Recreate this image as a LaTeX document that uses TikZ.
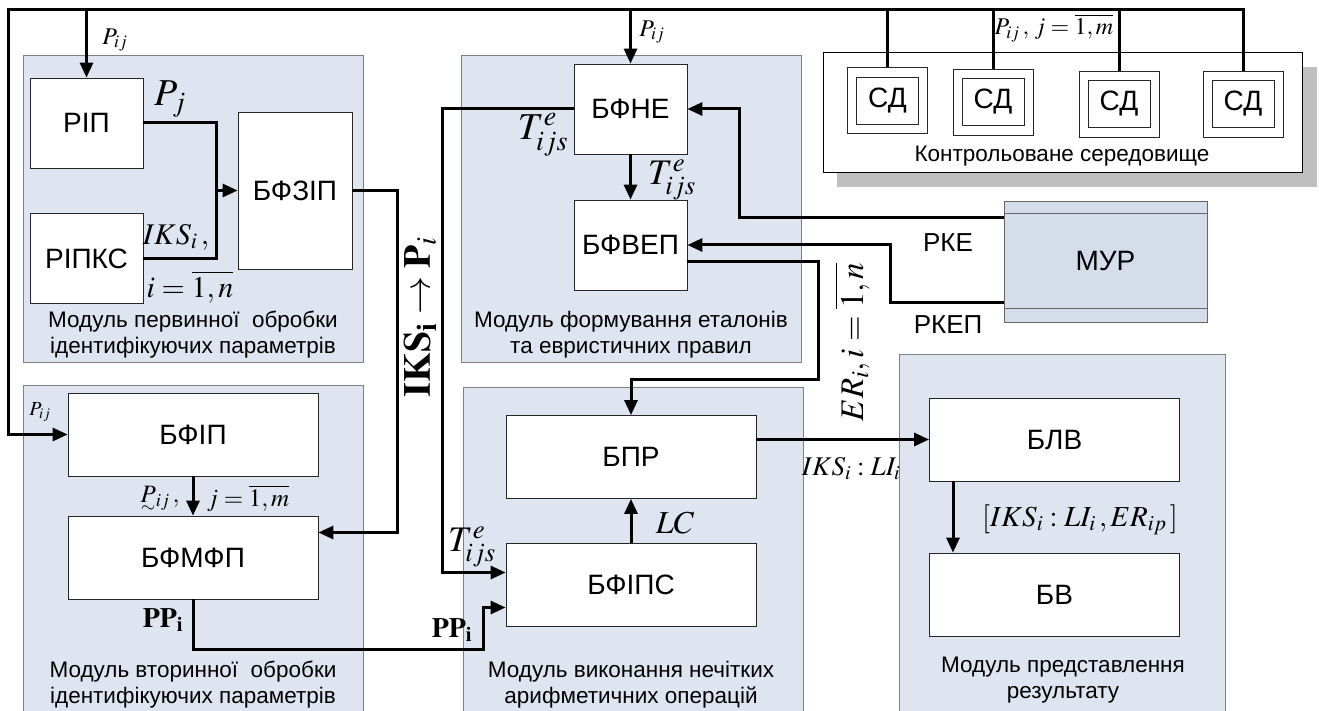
\documentclass[tikz,border=0pt]{standalone}
\usepackage{amsmath}
\usepackage{mathptmx}
\usepackage[no-math]{fontspec}
\setmainfont{Liberation Sans}
\usetikzlibrary{arrows.meta}
\definecolor{modfill}{RGB}{223,229,240}
\definecolor{murfill}{RGB}{213,221,234}
\definecolor{tin}{RGB}{191,191,191}
\newcommand{\fsz}[1]{\fontsize{#1}{#1}\selectfont}
\newcommand{\fuzP}{{\smash[b]{\mbox{\ooalign{$P$\cr\hidewidth\raisebox{-0.42em}{$\scriptstyle\sim$}\hidewidth\cr}}}}}
\begin{document}
\begin{tikzpicture}[x=1pt, y=-1pt, >={Triangle[length=15pt,width=13pt]},
    modul/.style={draw=black!50, fill=modfill, line width=0.8pt},
    blok/.style={draw=black!85, fill=white, line width=0.8pt, inner sep=0pt, font=\fsz{28}},
    malyj/.style={blok, minimum width=113pt, minimum height=90pt},
    shyrokyj/.style={blok, minimum width=250pt, minimum height=83pt},
    datch/.style={draw=black!85, fill=white, line width=0.8pt, minimum width=80pt, minimum height=66pt, inner sep=0pt},
    datchin/.style={draw=black!85, fill=white, line width=0.8pt, minimum width=62pt, minimum height=47pt, inner sep=0pt, font=\fsz{28}},
    link/.style={line width=3pt},
    modtext/.style={align=center, inner sep=0pt, font=\fontsize{22.5}{26}\selectfont},
    lab/.style={inner sep=0pt}]
    \useasboundingbox (0,0) rectangle (1319,711);
    \clip (0,0) rectangle (1319,711);

    % модулі
    \draw[modul] (23,55) rectangle (363,362);
    \draw[modul] (23,385) rectangle (363,720);
    \draw[modul] (461,55) rectangle (801,362);
    \draw[modul] (463,387) rectangle (803,720);
    \draw[modul] (899,354) rectangle (1225,720);

    % контрольоване середовище
    \fill[tin] (837,67) rectangle (1317,187);
    \draw[line width=0.8pt, fill=white] (823,52) rectangle (1302,172);
    \foreach \x/\y [count=\n] in {887.5/100.5, 993/102, 1119/104, 1243/104} {
        \node[datch] (sd\n) at (\x,\y) {};
        \node[datchin] (sdt\n) at (\x,\y) {СД};
    }
    \node[modtext] (tenv) at (1062,156) {Контрольоване середовище};

    % блоки
    \node[malyj] (rip) at (86.5,123) {РІП};
    \node[malyj] (ripks) at (86.5,258.5) {РІПКС};
    \node[blok, minimum width=114pt, minimum height=157pt] (bfzip) at (295,190.5) {БФЗІП};
    \node[shyrokyj] (bfip) at (193,434.5) {БФІП};
    \node[shyrokyj] (bfmfp) at (193,557.5) {БФМФП};
    \node[malyj] (bfne) at (630.5,109) {БФНЕ};
    \node[malyj] (bfvep) at (630.5,245) {БФВЕП};
    \node[shyrokyj] (bpr) at (631,457) {БПР};
    \node[shyrokyj] (bfips) at (631,584.5) {БФІПС};
    \node[shyrokyj] (blv) at (1054.5,439.5) {БЛВ};
    \node[shyrokyj] (bv) at (1054.5,594.5) {БВ};
    \node[blok, fill=murfill, draw=black!60, minimum width=203pt, minimum height=121pt] (mur) at (1105.5,261.5) {МУР};
    \draw[black!60, line width=0.8pt] ([yshift=-13pt]mur.north west) -- ([yshift=-13pt]mur.north east);
    \draw[black!60, line width=0.8pt] ([yshift=14pt]mur.south west) -- ([yshift=14pt]mur.south east);

    % шина P_ij
    \coordinate (busL) at (8,10);
    \draw[link, ->] (sd4.north) -- (sd4.north |- busL) -- (busL) |- (bfip.west);
    \foreach \n in {1,2,3}
        \draw[link] (sd\n.north |- busL) -- (sd\n.north);
    \draw[link, ->] (rip.north |- busL) -- (rip.north);
    \draw[link, ->] (bfne.north |- busL) -- (bfne.north);

    % зв'язки
    \coordinate (mrg) at (216,190.5);
    \draw[link] (rip.east) -| (mrg) |- (ripks.east);
    \draw[link, ->] (mrg) -- (bfzip.west);
    \draw[link, ->] (bfzip.east) -- ++(45,0) |- ([yshift=25pt]bfmfp.east);
    \draw[link, ->] (bfip.south) -- (bfmfp.north);
    \draw[link, ->] (bfmfp.south) -- ++(0,50) -- ++(290,0) |- ([yshift=-23pt]bfips.west);
    \draw[link, ->] (bfne.west) -- ++(-131,0) |- ([yshift=12pt]bfips.west);
    \draw[link, ->] (bfne.south) -- (bfvep.north);
    \draw[link, ->] ([yshift=43.5pt]mur.west) -- ++(-264,0) |- (bfne.east);
    \draw[link, ->] ([yshift=-40.5pt]mur.west) -- ++(-113,0) |- (bfvep.east);
    \draw[link, ->] ([yshift=-17pt]bfvep.east) -- ++(131,0) -- ++(0,117) -| (bpr.north);
    \draw[link, ->] (bfips.north) -- (bpr.south);
    \draw[link, ->] (blv.west -| bpr.east) -- (blv.west);
    \draw[link, ->] ([xshift=-101.5pt]blv.south) -- ([xshift=-101.5pt]bv.north);

    % підписи
    \node[lab, font=\fsz{24}] (lpij1) at (115,40) {$P_{ij}$};
    \node[lab, font=\fsz{38}] (lpj) at (170,99) {$P_j$};
    \node[lab, font=\fsz{30}] (liks) at (176,237) {$IKS_i\,,$};
    \node[lab, font=\fsz{30}] (lin) at (190,287) {$i=\overline{1,n}$};
    \node[lab, font=\fsz{38}, rotate=90] (likp) at (420,317) {$\mathbf{IKS_i}\rightarrow\mathbf{P}_i$};
    \node[lab, font=\fsz{24}] (lpij2) at (652,32) {$P_{ij}$};
    \node[lab, font=\fsz{38}] (lt1) at (543,135) {$T^e_{ijs}$};
    \node[lab, font=\fsz{36}] (lt2) at (672,180) {$T^e_{ijs}$};
    \node[lab, font=\fsz{26}] (lrke) at (948,243) {РКЕ};
    \node[lab, font=\fsz{26}] (lrkep) at (948,325) {РКЕП};
    \node[lab, font=\fsz{33}, rotate=90] (ler) at (852,342) {$ER_i, i=\overline{1,n}$};
    \node[lab, font=\fsz{24}] (lpijm) at (1054,28) {$P_{ij}\,,\,j=\overline{1,m}$};
    \node[lab, font=\fsz{20}] (lpij3) at (40,412) {$P_{ij}$};
    \node[lab, font=\fsz{25}] (lpt) at (160,498) {$\fuzP_{ij}\,,$};
    \node[lab, font=\fsz{25}] (ljm) at (248,498) {$j=\overline{1,m}$};
    \node[lab, font=\fsz{28}] (lpp1) at (163,620) {$\mathbf{PP_i}$};
    \node[lab, font=\fsz{28}] (lpp2) at (452,630) {$\mathbf{PP_i}$};
    \node[lab, font=\fsz{36}] (lt3) at (472,547) {$T^e_{ijs}$};
    \node[lab, font=\fsz{32}] (llc) at (675,523) {$LC$};
    \node[lab, font=\fsz{27}] (liksli) at (851,469) {$IKS_i:LI_i$};
    \node[lab, font=\fsz{29}] (lres) at (1080,520) {$[IKS_i:LI_i\,,ER_{ip}\,]$};

    % назви модулів
    \node[modtext] (tm1) at (193,335) {Модуль первинної~ обробки\\ідентифікуючих параметрів};
    \node[modtext] (tm2) at (193,685) {Модуль вторинної~ обробки\\ідентифікуючих параметрів};
    \node[modtext] (tm3) at (631,335) {Модуль формування еталонів\\та евристичних правил};
    \node[modtext] (tm4) at (631,685) {Модуль виконання нечітких\\арифметичних операцій};
    \node[modtext] (tm5) at (1063,680) {Модуль представлення\\результату};
\end{tikzpicture}
\end{document}
